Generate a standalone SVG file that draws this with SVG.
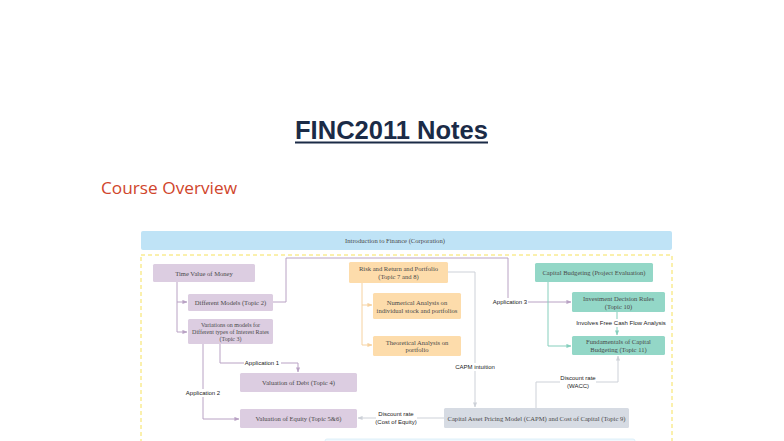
<svg xmlns="http://www.w3.org/2000/svg" width="784" height="441" viewBox="0 0 784 441">
<defs>
<style>
.title{font-family:"Liberation Sans",Arial,sans-serif;font-weight:bold;font-size:25px;fill:#1b2b47}
.sub{font-family:"Open Sans","Liberation Sans",sans-serif;font-size:17px;fill:#d0452b}
.nt{font-family:"Liberation Serif","Times New Roman",serif;font-size:6.6px;fill:#4a4a4a;text-anchor:middle;dominant-baseline:central}
.sm{font-size:6px}
.lb{font-family:"Liberation Sans",Arial,sans-serif;font-size:6px;fill:#222;text-anchor:middle;dominant-baseline:central}
.pur{fill:#dccde1}
.org{fill:#fddcab}
.tea{fill:#93d7c7}
.gry{fill:#d6dbe3}
.lp{fill:none;stroke:#b9a2c4;stroke-width:1}
.lo{fill:none;stroke:#f6d2a0;stroke-width:1}
.lt{fill:none;stroke:#86cfbd;stroke-width:1}
.lg{fill:none;stroke:#cdd1d8;stroke-width:1}
.bg{fill:#fff}
</style>
<marker id="ap" viewBox="0 0 6 6" refX="5.5" refY="3" markerWidth="5" markerHeight="5" orient="auto"><path d="M0,0.5 L6,3 L0,5.5 Z" fill="#b9a2c4"/></marker>
<marker id="ao" viewBox="0 0 6 6" refX="5.5" refY="3" markerWidth="5" markerHeight="5" orient="auto"><path d="M0,0.5 L6,3 L0,5.5 Z" fill="#f6d2a0"/></marker>
<marker id="at" viewBox="0 0 6 6" refX="5.5" refY="3" markerWidth="5" markerHeight="5" orient="auto"><path d="M0,0.5 L6,3 L0,5.5 Z" fill="#86cfbd"/></marker>
<marker id="ag" viewBox="0 0 6 6" refX="5.5" refY="3" markerWidth="5" markerHeight="5" orient="auto"><path d="M0,0.5 L6,3 L0,5.5 Z" fill="#cdd1d8"/></marker>
</defs>
<rect width="784" height="441" fill="#fff"/>

<g id="title">
<text class="title" x="391.5" y="139" text-anchor="middle" textLength="193" lengthAdjust="spacingAndGlyphs">FINC2011 Notes</text>
<rect x="295" y="141.5" width="193" height="2" fill="#1b2b47"/>
</g>
<text class="sub" x="101" y="194" textLength="136" lengthAdjust="spacingAndGlyphs">Course Overview</text>

<g id="intro">
<rect x="141" y="231" width="531" height="19" rx="2" fill="#bfe3f6"/>
<text class="nt" x="395" y="240.5">Introduction to Finance (Corporation)</text>
</g>
<rect id="frame" x="141" y="255" width="531" height="200" fill="none" stroke="#f6e15a" stroke-width="1" stroke-dasharray="4,3"/>
<rect id="bottom" x="325" y="439" width="310" height="10" rx="2" fill="#f1f8fd" stroke="#d6ecf8" stroke-width="0.8"/>

<g id="connectors">
<path class="lp" d="M177,282 V332"/>
<path class="lp" d="M177,302 H187" marker-end="url(#ap)"/>
<path class="lp" d="M177,332 H187" marker-end="url(#ap)"/>
<path class="lp" d="M273,302 H286 V258 H508 V302 H571" marker-end="url(#ap)"/>
<path class="lp" d="M220,344 V363 H298 V372" marker-end="url(#ap)"/>
<path class="lp" d="M203,344 V419 H239" marker-end="url(#ap)"/>
<path class="lo" d="M362,283 V345"/>
<path class="lo" d="M362,305 H372" marker-end="url(#ao)"/>
<path class="lo" d="M362,345 H372" marker-end="url(#ao)"/>
<path class="lg" d="M448,272 H475 V407" marker-end="url(#ag)"/>
<path class="lg" d="M444,418 H358" marker-end="url(#ag)"/>
<path class="lg" d="M536,408 V382 H618 V356" marker-end="url(#ag)"/>
<path class="lt" d="M548,282 V346 H571" marker-end="url(#at)"/>
<path class="lt" d="M617,312 V335" marker-end="url(#at)"/>

<rect class="bg" x="244" y="359" width="37" height="8"/>
<text class="lb" x="262" y="363">Application 1</text>
<rect class="bg" x="185" y="389" width="37" height="8"/>
<text class="lb" x="203" y="393">Application 2</text>
<rect class="bg" x="493" y="298" width="35" height="8"/>
<text class="lb" x="510" y="302">Application 3</text>
<rect class="bg" x="455" y="363" width="40" height="8"/>
<text class="lb" x="475" y="367">CAPM intuition</text>
<rect class="bg" x="560" y="373" width="36" height="17"/>
<text class="lb" x="578" y="377.5">Discount rate</text>
<text class="lb" x="578" y="385.5">(WACC)</text>
<rect class="bg" x="376" y="409" width="41" height="17"/>
<text class="lb" x="396" y="413.5">Discount rate</text>
<text class="lb" x="396" y="421.5">(Cost of Equity)</text>
<rect class="bg" x="577" y="319" width="88" height="8"/>
<text class="lb" x="621" y="323">Involves Free Cash Flow Analysis</text>
</g>

<g id="tvm"><rect class="pur" x="153" y="264" width="102" height="18" rx="1.5"/><text class="nt" x="204" y="273">Time Value of Money</text></g>
<g id="models"><rect class="pur" x="188" y="294" width="85" height="17" rx="1.5"/><text class="nt" x="230.5" y="302.5">Different Models (Topic 2)</text></g>
<g id="rates"><rect class="pur" x="188" y="319" width="85" height="25" rx="1.5"/><text class="nt sm" x="230.5" y="324.5">Variations on models for</text><text class="nt sm" x="230.5" y="331.5">Different types of Interest Rates</text><text class="nt sm" x="230.5" y="338.5">(Topic 3)</text></g>
<g id="debt"><rect class="pur" x="240" y="373" width="117" height="19" rx="1.5"/><text class="nt" x="298.5" y="382.5">Valuation of Debt (Topic 4)</text></g>
<g id="equity"><rect class="pur" x="240" y="409" width="117" height="19" rx="1.5"/><text class="nt" x="298.5" y="418.5">Valuation of Equity (Topic 5&amp;6)</text></g>

<g id="risk"><rect class="org" x="349" y="262" width="99" height="21" rx="1.5"/><text class="nt" x="398.5" y="268.5">Risk and Return and Portfolio</text><text class="nt" x="398.5" y="276">(Topic 7 and 8)</text></g>
<g id="numerical"><rect class="org" x="373" y="293" width="88" height="26" rx="1.5"/><text class="nt" x="417" y="302">Numerical Analysis on</text><text class="nt" x="417" y="310">individual stock and portfolios</text></g>
<g id="theoretical"><rect class="org" x="373" y="336" width="88" height="20" rx="1.5"/><text class="nt" x="417" y="342">Theoretical Analysis on</text><text class="nt" x="417" y="349.5">portfolio</text></g>

<g id="capbud"><rect class="tea" x="535" y="263" width="118" height="19" rx="1.5"/><text class="nt" x="594" y="272.5">Capital Budgeting (Project Evaluation)</text></g>
<g id="idr"><rect class="tea" x="572" y="292" width="93" height="20" rx="1.5"/><text class="nt" x="618.5" y="298">Investment Decision Rules</text><text class="nt" x="618.5" y="306">(Topic 10)</text></g>
<g id="fcb"><rect class="tea" x="572" y="336" width="93" height="19" rx="1.5"/><text class="nt" x="618.5" y="341.5">Fundamentals of Capital</text><text class="nt" x="618.5" y="349.5">Budgeting (Topic 11)</text></g>

<g id="capm"><rect class="gry" x="444" y="408" width="185" height="20" rx="1.5"/><text class="nt" x="536.5" y="418">Capital Asset Pricing Model (CAPM) and Cost of Capital (Topic 9)</text></g>
</svg>
